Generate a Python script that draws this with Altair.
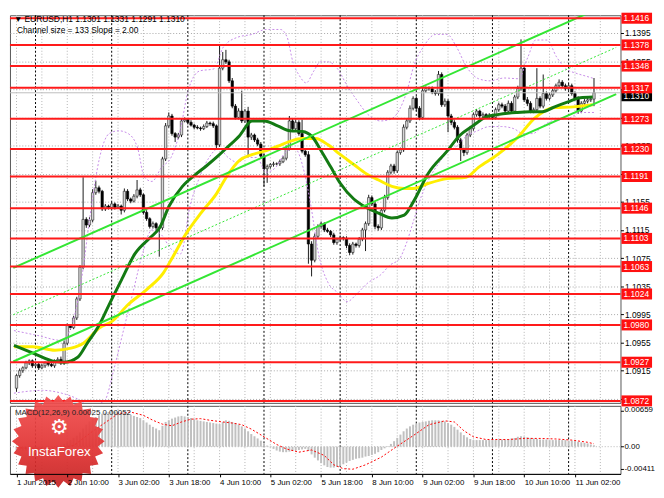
import math
import altair as alt
import pandas as pd

# ---------------- data ----------------
closes = [
    1.0908, 1.0915, 1.0919, 1.0926, 1.0929, 1.0922, 1.0924, 1.0919, 1.0922, 1.0926,
    1.0924, 1.0922, 1.0929, 1.0931, 1.0926, 1.0954, 1.0979, 1.0976, 1.0990, 1.1017,
    1.1062, 1.1130, 1.1122, 1.1129, 1.1168, 1.1175, 1.1170, 1.1145, 1.1149, 1.1147,
    1.1152, 1.1147, 1.1149, 1.1143, 1.1170, 1.1159, 1.1156, 1.1163, 1.1172, 1.1165,
    1.1140, 1.1131, 1.1120, 1.1124, 1.1118, 1.1118, 1.1216, 1.1263, 1.1277, 1.1252,
    1.1247, 1.1250, 1.1270, 1.1272, 1.1268, 1.1264, 1.1261, 1.1260, 1.1259, 1.1262,
    1.1267, 1.1266, 1.1263, 1.1236, 1.1345, 1.1357, 1.1354, 1.1327, 1.1291, 1.1275,
    1.1284, 1.1270, 1.1284, 1.1247, 1.1250, 1.1243, 1.1237, 1.1220, 1.1202, 1.1205,
    1.1208, 1.1209, 1.1209, 1.1212, 1.1217, 1.1231, 1.1270, 1.1259, 1.1268, 1.1252,
    1.1227, 1.1222, 1.1095, 1.1072, 1.1106, 1.1120, 1.1124, 1.1115, 1.1113, 1.1108,
    1.1097, 1.1102, 1.1104, 1.1103, 1.1093, 1.1083, 1.1095, 1.1093, 1.1102, 1.1115,
    1.1124, 1.1161, 1.1152, 1.1120, 1.1118, 1.1143, 1.1161, 1.1197, 1.1206, 1.1199,
    1.1225, 1.1229, 1.1261, 1.1270, 1.1288, 1.1302, 1.1288, 1.1275, 1.1313, 1.1316,
    1.1316, 1.1311, 1.1309, 1.1336, 1.1293, 1.1298, 1.1277, 1.1268, 1.1261, 1.1243,
    1.1229, 1.1225, 1.1250, 1.1259, 1.1279, 1.1284, 1.1277, 1.1279, 1.1276, 1.1278,
    1.1275, 1.1286, 1.1293, 1.1291, 1.1284, 1.1295, 1.1284, 1.1304, 1.1316, 1.1345,
    1.1300, 1.1295, 1.1284, 1.1286, 1.1302, 1.1291, 1.1309, 1.1302, 1.1307, 1.1313,
    1.1320, 1.1325, 1.1320, 1.1316, 1.1320, 1.1309, 1.1302, 1.1284, 1.1295, 1.1298,
    1.1300, 1.1301, 1.1310,
]
first_open = 1.0890
up_wick_pips = [
    2, 3, 2, 3, 2, 2, 3, 2, 3, 2,
    2, 3, 2, 3, 4, 4, 3, 2, 3, 3,
    3, 60, 3, 4, 5, 10, 3, 2, 3, 2,
    3, 2, 3, 2, 4, 3, 2, 3, 14, 3,
    2, 3, 2, 3, 2, 3, 3, 4, 5, 3,
    2, 3, 4, 3, 2, 3, 2, 3, 2, 3,
    3, 2, 3, 2, 32, 11, 14, 3, 4, 3,
    4, 29, 3, 6, 3, 2, 3, 3, 3, 3,
    2, 3, 2, 3, 3, 4, 7, 3, 4, 3,
    20, 3, 5, 4, 4, 3, 3, 2, 3, 2,
    3, 2, 3, 2, 3, 3, 3, 2, 3, 3,
    3, 4, 3, 3, 3, 3, 4, 3, 3, 3,
    3, 3, 4, 3, 4, 3, 3, 3, 4, 3,
    3, 3, 3, 5, 3, 4, 3, 3, 3, 3,
    3, 3, 3, 4, 3, 3, 2, 3, 2, 3,
    2, 3, 3, 3, 3, 4, 3, 3, 4, 41,
    5, 4, 3, 3, 43, 3, 27, 3, 3, 3,
    3, 4, 3, 3, 3, 3, 3, 3, 3, 3,
    3, 4, 21,
]
dn_wick_pips = [
    5, 3, 3, 2, 3, 3, 2, 3, 2, 3,
    3, 2, 3, 2, 3, 3, 3, 3, 2, 3,
    3, 3, 4, 3, 3, 3, 3, 3, 3, 3,
    2, 3, 2, 6, 3, 3, 3, 2, 3, 3,
    3, 3, 3, 3, 4, 41, 3, 3, 3, 3,
    7, 3, 3, 2, 3, 2, 3, 2, 3, 2,
    2, 3, 3, 7, 3, 3, 3, 3, 3, 3,
    3, 3, 3, 27, 4, 3, 3, 4, 25, 20,
    3, 3, 2, 3, 2, 3, 3, 3, 3, 3,
    3, 3, 28, 23, 3, 4, 3, 3, 2, 3,
    3, 3, 3, 3, 4, 4, 3, 3, 3, 3,
    30, 3, 3, 4, 4, 3, 3, 3, 3, 4,
    3, 3, 3, 3, 3, 3, 4, 4, 3, 3,
    3, 3, 3, 3, 3, 3, 23, 4, 3, 4,
    16, 5, 3, 3, 3, 3, 3, 3, 3, 3,
    3, 3, 3, 3, 3, 3, 4, 3, 3, 3,
    3, 4, 3, 3, 3, 3, 3, 3, 3, 3,
    3, 3, 3, 3, 3, 3, 3, 4, 3, 3,
    3, 3, 10,
]

level_prices = [1.1416, 1.1378, 1.1348, 1.1317, 1.1273, 1.1230, 1.1191,
                1.1146, 1.1103, 1.1063, 1.1024, 1.0980, 1.0927, 1.0872]
grid_prices = [1.0875, 1.0915, 1.0955, 1.0995, 1.1035, 1.1075, 1.1115,
               1.1155, 1.1195, 1.1235, 1.1275, 1.1315, 1.1355, 1.1395]
bid_price = 1.1310

tick_bars = [0, 16, 32, 48, 64, 80, 96, 112, 128, 144, 160, 176]
tick_labels = ["1 Jun 2015", "2 Jun 10:00", "3 Jun 02:00", "3 Jun 18:00",
               "4 Jun 10:00", "5 Jun 02:00", "5 Jun 18:00", "8 Jun 10:00",
               "9 Jun 02:00", "9 Jun 18:00", "10 Jun 10:00", "11 Jun 02:00"]
grid_bars = [0, 8, 16, 24, 32, 40, 48, 56, 64, 72, 80, 88, 96, 104, 112, 120,
             128, 136, 144, 152, 160, 168, 176, 184]
day_start_bars = [6, 30, 54, 78, 102, 126, 150, 174]

ma_fast_bars = [-0.8, 5.2, 12.1, 15.1, 19.3, 22.3, 26.2, 29.2, 33.1, 37.3, 42.1, 45.1,
                48.1, 52.3, 56.2, 60.1, 63.7, 66.1, 70.3, 74.2, 78.1, 82.3, 86.2, 90.1,
                93.1, 96.1, 99.1, 102.1, 106.3, 110.2, 114.1, 118.3, 122.2, 125.2,
                129.7, 135.7, 139.6, 143.8, 147.7, 151.6, 157.6, 161.8, 165.7, 169.6,
                173.8, 177.7, 181.6]
ma_fast_vals = [1.0951, 1.0940, 1.0928, 1.0927, 1.0934, 1.0954, 1.0981, 1.1009, 1.1044,
                1.1081, 1.1104, 1.1118, 1.1149, 1.1177, 1.1193, 1.1207, 1.1221, 1.1231,
                1.1249, 1.1270, 1.1270, 1.1263, 1.1256, 1.1255, 1.1248, 1.1227, 1.1204,
                1.1181, 1.1159, 1.1147, 1.1139, 1.1132, 1.1136, 1.1156, 1.1195, 1.1227,
                1.1249, 1.1263, 1.1275, 1.1279, 1.1282, 1.1283, 1.1283, 1.1290, 1.1297,
                1.1303, 1.1304]
ma_slow_bars = [-0.8, 5.2, 12.1, 17.2, 21.1, 26.2, 30.1, 35.2, 41.2, 46.3, 49.3, 53.2,
                58.3, 63.1, 66.1, 70.3, 74.2, 78.1, 82.3, 86.2, 90.1, 94.3, 98.2, 102.1,
                106.3, 110.2, 114.1, 118.3, 122.2, 125.2, 129.7, 135.7, 141.7, 145.6,
                151.6, 157.6, 163.6, 169.6, 175.6, 181.6]
ma_slow_vals = [1.0949, 1.0949, 1.0944, 1.0947, 1.0954, 1.0976, 1.0985, 1.1009, 1.1031,
                1.1054, 1.1077, 1.1108, 1.1140, 1.1167, 1.1190, 1.1214, 1.1222, 1.1227,
                1.1234, 1.1241, 1.1245, 1.1245, 1.1236, 1.1222, 1.1208, 1.1195, 1.1186,
                1.1177, 1.1174, 1.1174, 1.1181, 1.1188, 1.1190, 1.1204, 1.1222, 1.1245,
                1.1275, 1.1289, 1.1290, 1.1293]

bb_up_bars = [-0.8, 6.7, 14.2, 17.8, 20.8, 23.2, 26.2, 29.2, 32.2, 35.2, 38.2, 40.3,
              42.7, 45.7, 48.7, 51.7, 54.1, 57.7, 62.2, 65.2, 69.7, 74.2, 78.7, 83.2,
              85.3, 87.1, 89.2, 91.3, 93.7, 95.8, 98.2, 101.2, 104.2, 107.2, 110.8,
              114.7, 117.7, 120.7, 123.1, 125.2, 128.2, 132.1, 135.7, 138.7, 141.7,
              145.6, 149.2, 153.7, 158.2, 161.2, 163.6, 167.2, 170.2, 173.2, 176.2,
              179.2, 182.2]
bb_up_vals = [1.0972, 1.0965, 1.0958, 1.0985, 1.1054, 1.1136, 1.1218, 1.1252, 1.1256,
              1.1252, 1.1231, 1.1190, 1.1184, 1.1204, 1.1218, 1.1259, 1.1313, 1.1341,
              1.1344, 1.1375, 1.1389, 1.1393, 1.1400, 1.1400, 1.1389, 1.1354, 1.1334,
              1.1324, 1.1341, 1.1354, 1.1354, 1.1344, 1.1320, 1.1300, 1.1279, 1.1270,
              1.1272, 1.1286, 1.1313, 1.1348, 1.1375, 1.1393, 1.1393, 1.1375, 1.1348,
              1.1330, 1.1327, 1.1331, 1.1330, 1.1361, 1.1385, 1.1385, 1.1361, 1.1344,
              1.1338, 1.1334, 1.1330]
bb_lo_bars = [-0.8, 8.2, 14.2, 18.7, 23.2, 27.7, 30.7, 33.7, 36.7, 39.7, 42.7, 45.7,
              48.7, 51.7, 54.7, 57.7, 60.7, 63.7, 66.7, 69.7, 72.7, 75.7, 78.7, 81.7,
              84.7, 87.7, 90.7, 92.8, 95.2, 98.2, 101.2, 104.2, 107.2, 110.8, 114.7,
              117.7, 120.7, 122.8, 125.2, 127.6, 130.3, 133.3, 135.7, 138.7, 141.7,
              145.3, 149.2, 152.8, 156.7, 159.7, 162.7, 165.7, 168.7, 171.7, 174.7,
              177.7, 182.2]
bb_lo_vals = [1.0883, 1.0887, 1.0883, 1.0876, 1.0865, 1.0872, 1.0917, 1.0972, 1.1026,
              1.1081, 1.1115, 1.1108, 1.1088, 1.1081, 1.1149, 1.1190, 1.1218, 1.1231,
              1.1218, 1.1211, 1.1218, 1.1218, 1.1197, 1.1204, 1.1225, 1.1231, 1.1197,
              1.1149, 1.1081, 1.1040, 1.1026, 1.1013, 1.1024, 1.1040, 1.1051, 1.1065,
              1.1074, 1.1095, 1.1129, 1.1163, 1.1190, 1.1211, 1.1225, 1.1234, 1.1248,
              1.1256, 1.1262, 1.1262, 1.1259, 1.1252, 1.1252, 1.1262, 1.1270, 1.1272,
              1.1275, 1.1282, 1.1282]

channel_bars = [-1, 189]
channel_lower = [1.0928, 1.1308]
channel_size = 0.0133

macd_hist_e4 = [
    -6, -6, -7, -7, -6, -5, -5, -4, -3, -2, -1, 0,
    1, 2, 3, 5, 8, 12, 16, 20, 26, 33, 40, 46,
    50, 54, 57, 60, 62, 63, 64, 64, 63, 62, 61, 60,
    58, 56, 54, 52, 48, 44, 40, 36, 33, 30, 38, 45,
    48, 51, 53, 55, 56, 55, 54, 52, 50, 48, 47, 46,
    45, 44, 43, 42, 41, 45, 48, 47, 45, 43, 40, 37,
    33, 28, 23, 19, 15, 11, 6, 2, -1, -4, -7, -9,
    -10, -10, -9, -8, -7, -6, -5, -4, -8, -14, -20, -25,
    -30, -34, -37, -38, -38, -37, -35, -32, -29, -26, -24, -22,
    -21, -20, -18, -17, -15, -13, -10, -6, -3, 1, 5, 10,
    16, 22, 28, 33, 37, 40, 42, 44, 45, 46, 47, 48,
    48, 48, 47, 46, 43, 40, 36, 31, 26, 21, 17, 14,
    12, 12, 12, 12, 12, 12, 12, 12, 13, 13, 13, 14,
    15, 16, 18, 19, 18, 17, 16, 15, 14, 13, 13, 13,
    12, 12, 12, 12, 12, 12, 11, 11, 10, 9, 8, 7,
    6, 4, 2.5,
]
signal_bars = [0, 10, 18, 24, 28, 32, 36, 40, 43, 46, 49, 52, 55, 58, 61, 65, 68, 71,
               74, 78, 82, 85, 89, 93, 97, 100, 103, 106, 110, 115, 120, 125, 130,
               135, 138, 141, 144, 148, 155, 160, 165, 170, 175, 180, 182]
signal_e4 = [-2, -4, 2, 28, 44, 60, 63, 57, 48, 41, 38, 45, 50, 51, 48, 45, 43, 40,
             32, 18, 4, -4, -10, -6, -16, -33, -40, -41, -33, -19, 1, 20, 40, 47, 45,
             29, 18, 13, 13, 15, 15, 14, 12, 8, 5.2]

header_text = "▼ EURUSD,H1  1.1301 1.1331 1.1291 1.1310"
channel_text = "Channel size = 133 Slope = 2.00"
macd_text = "MACD(12,26,9) 0.00025 0.00052"
macd_axis_values = [-0.00411, 0.0, 0.00659]
macd_axis_labels = ["-0.00411", "0.00", "0.00659"]

# ---------------- layout ----------------
W = 619
HM = 393
HD = 69
FONT = "Liberation Sans"
x_dom = [-0.5, 188.8]
p_dom = [1.08692, 1.14202]
m_dom = [-0.00495, 0.00743]

xs = alt.Scale(domain=x_dom, nice=False, zero=False)
ps = alt.Scale(domain=p_dom, nice=False, zero=False)
ms = alt.Scale(domain=m_dom, nice=False, zero=False)

# ---------------- tables ----------------
opens = [first_open] + closes[:-1]
rows = []
for i, (o, c, u, d) in enumerate(zip(opens, closes, up_wick_pips, dn_wick_pips)):
    rows.append({"i": i, "o": o, "c": c,
                 "h": max(o, c) + u * 1e-4, "l": min(o, c) - d * 1e-4,
                 "bull": c >= o})
candles = pd.DataFrame(rows)
bull_df = candles[candles["bull"]]
bear_df = candles[~candles["bull"]]

grid_df = pd.DataFrame({"i": grid_bars})
day_df = pd.DataFrame({"i": day_start_bars})
gridp_df = pd.DataFrame({"p": grid_prices})
lev_df = pd.DataFrame({"p": level_prices, "lab": [f"{v:.4f}" for v in level_prices]})
bid_df = pd.DataFrame({"p": [bid_price], "lab": [f"{bid_price:.4f}"]})
macd_lab_df = pd.DataFrame({"v": macd_axis_values, "lab": macd_axis_labels})

ma_fast_df = pd.DataFrame({"i": ma_fast_bars, "p": ma_fast_vals})
ma_slow_df = pd.DataFrame({"i": ma_slow_bars, "p": ma_slow_vals})
bb_df = pd.concat([
    pd.DataFrame({"i": bb_up_bars, "p": bb_up_vals, "band": "up"}),
    pd.DataFrame({"i": bb_lo_bars, "p": bb_lo_vals, "band": "lo"}),
])
chan_rows = []
for name, off in [("lower", 0.0), ("mid", channel_size / 2), ("upper", channel_size)]:
    for b, v in zip(channel_bars, channel_lower):
        chan_rows.append({"i": b, "p": v + off, "line": name})
chan_df = pd.DataFrame(chan_rows)
chan_solid = chan_df[chan_df["line"] != "mid"]
chan_mid = chan_df[chan_df["line"] == "mid"]

hist_df = pd.DataFrame({"i": list(range(len(macd_hist_e4))),
                        "v": [v * 1e-4 for v in macd_hist_e4]})
sig_df = pd.DataFrame({"i": signal_bars, "v": [v * 1e-4 for v in signal_e4]})

# ---------------- shared axes ----------------
price_axis = alt.Axis(
    orient="right", values=grid_prices, format=".4f", grid=True,
    gridDash=[1, 2], gridColor="#a8a8a8", gridOpacity=1, domain=False,
    tickSize=3, tickColor="#000", labelPadding=1, labelFontSize=8.5,
    labelFont=FONT, labelColor="#000", title=None, labelOverlap=False)
label_js = "[" + ",".join(f"'{t}'" for t in tick_labels) + "]"
time_axis = alt.Axis(
    values=tick_bars, labelExpr=f"{label_js}[round(datum.value/16)]",
    labelAlign="left", labelFontSize=8, labelFont=FONT, labelColor="#000",
    tickSize=3, tickColor="#000", domainColor="#000", labelPadding=2,
    grid=False, title=None, labelOverlap=False, labelFlush=False, labelBound=False,
    zindex=2)
macd_axis = alt.Axis(
    orient="right", values=macd_axis_values, labels=False,
    tickSize=3, tickColor="#000", grid=False, domain=False, title=None)

X = alt.X("i:Q", scale=xs, axis=None)
P = lambda f: alt.Y(f, scale=ps, axis=price_axis)
XM = alt.X("i:Q", scale=xs, axis=time_axis)
M = lambda f: alt.Y(f, scale=ms, axis=macd_axis)

# ---------------- main panel ----------------
ygrid = alt.Chart(gridp_df).mark_rule(opacity=0).encode(y=P("p:Q"))
vgrid = alt.Chart(grid_df).mark_rule(color="#b4b4b4", strokeDash=[1, 2], strokeWidth=1).encode(x=X)
vday = alt.Chart(day_df).mark_rule(color="#000", strokeDash=[2, 2], strokeWidth=1).encode(x=X)

wicks = alt.Chart(candles).mark_rule(color="#1a1a1a", strokeWidth=1).encode(
    x=X, y=P("l:Q"), y2="h:Q")
bulls = alt.Chart(bull_df).mark_bar(width=2.4, fill="#d6d6d6", stroke="#222", strokeWidth=0.6).encode(
    x=X, y=P("o:Q"), y2="c:Q")
bears = alt.Chart(bear_df).mark_bar(width=2.4, fill="#000", stroke="#000", strokeWidth=0.6).encode(
    x=X, y=P("o:Q"), y2="c:Q")

bb = alt.Chart(bb_df).mark_line(color="#c68be8", strokeDash=[2, 2], strokeWidth=1,
                                interpolate="monotone", clip=True).encode(
    x=X, y=P("p:Q"), detail="band:N")
ma_slow = alt.Chart(ma_slow_df).mark_line(color="#ffee00", strokeWidth=3,
                                          interpolate="monotone", clip=True).encode(x=X, y=P("p:Q"))
ma_fast = alt.Chart(ma_fast_df).mark_line(color="#137a13", strokeWidth=3,
                                          interpolate="monotone", clip=True).encode(x=X, y=P("p:Q"))
ch_solid = alt.Chart(chan_solid).mark_line(color="#33e633", strokeWidth=2, clip=True).encode(
    x=X, y=P("p:Q"), detail="line:N")
ch_mid = alt.Chart(chan_mid).mark_line(color="#33e633", strokeWidth=1, strokeDash=[2, 2], clip=True).encode(
    x=X, y=P("p:Q"))

bid_line = alt.Chart(bid_df).mark_rule(color="#bdbdbd", strokeWidth=1).encode(y=P("p:Q"))
lev_lines = alt.Chart(lev_df).mark_rule(color="#ff1a1a", strokeWidth=2).encode(y=P("p:Q"))

box_path = "M-1,-0.36 L1,-0.36 L1,0.36 L-1,0.36 Z"
bid_box = alt.Chart(bid_df).mark_point(shape=box_path, size=961, filled=True, color="#000",
                                       opacity=1, yOffset=3).encode(
    x=alt.value(W + 16.5), y=P("p:Q"))
bid_lab = alt.Chart(bid_df).mark_text(align="left", baseline="middle", color="white", dy=3,
                                      fontSize=8.5, font=FONT).encode(
    x=alt.value(W + 3), y=P("p:Q"), text="lab:N")
lev_box = alt.Chart(lev_df).mark_point(shape=box_path, size=961, filled=True, color="#ff1010", opacity=1).encode(
    x=alt.value(W + 16.5), y=P("p:Q"))
lev_lab = alt.Chart(lev_df).mark_text(align="left", baseline="middle", color="white",
                                      fontSize=8.5, font=FONT).encode(
    x=alt.value(W + 3), y=P("p:Q"), text="lab:N")

hdr = alt.Chart(pd.DataFrame({"t": [header_text]})).mark_text(
    align="left", baseline="middle", fontSize=8.5, font=FONT, color="#000").encode(
    x=alt.value(4), y=alt.value(4), text="t:N")
chtxt = alt.Chart(pd.DataFrame({"t": [channel_text]})).mark_text(
    align="left", baseline="middle", fontSize=8.5, font=FONT, color="#000").encode(
    x=alt.value(7), y=alt.value(15), text="t:N")

main = alt.layer(
    ygrid, vgrid, vday, wicks, bulls, bears, bb, ma_slow, ma_fast, ch_solid, ch_mid,
    bid_line, lev_lines, bid_box, bid_lab, lev_box, lev_lab, hdr, chtxt,
).properties(width=W, height=HM)

# ---------------- MACD panel ----------------
m_vgrid = alt.Chart(grid_df).mark_rule(color="#b4b4b4", strokeDash=[1, 2]).encode(x=XM)
m_vday = alt.Chart(day_df).mark_rule(color="#000", strokeDash=[2, 2]).encode(x=XM)
zero = alt.Chart(pd.DataFrame({"v": [0.0]})).mark_rule(color="#b4b4b4", strokeDash=[1, 2]).encode(
    y=M("v:Q"))
hist = alt.Chart(hist_df).mark_bar(width=2, color="#c0c0c0").encode(
    x=XM, y=M("v:Q"), y2=alt.datum(0))
sig = alt.Chart(sig_df).mark_line(color="#ff0000", strokeDash=[2, 2], strokeWidth=1).encode(
    x=XM, y=M("v:Q"))
m_labels = alt.Chart(macd_lab_df).mark_text(
    align="left", baseline="middle", fontSize=8, font=FONT, color="#000").encode(
    x=alt.value(W + 4), y=M("v:Q"), text="lab:N")

n_sp = 24
pts = []
for k in range(2 * n_sp):
    r = 1.0 if k % 2 == 0 else 0.86
    a = math.pi * k / n_sp - math.pi / 2
    pts.append(f"{r * math.cos(a):.3f},{r * math.sin(a):.3f}")
burst_path = "M" + " L".join(pts) + " Z"
grad = alt.LinearGradient(gradient="linear", x1=0, y1=0, x2=0, y2=1, stops=[
    alt.GradientStop(color="#f25050", offset=0),
    alt.GradientStop(color="#e03232", offset=0.6),
    alt.GradientStop(color="#c42222", offset=1)])
one = pd.DataFrame({"t": ["InstaForex"]})
burst = alt.Chart(one).mark_point(shape=burst_path, size=94 * 94, filled=True,
                                  color=grad, opacity=0.93, strokeWidth=0).encode(
    x=alt.value(49), y=alt.value(36))
gear = alt.Chart(one).mark_text(text="⚙", fontSize=21, font="DejaVu Sans", color="white",
                                baseline="middle", align="center").encode(
    x=alt.value(50), y=alt.value(23))
brand = alt.Chart(one).mark_text(fontSize=13.5, font=FONT, color="white",
                                 baseline="middle", align="center").encode(
    x=alt.value(50), y=alt.value(47), text="t:N")
mtxt = alt.Chart(pd.DataFrame({"t": [macd_text]})).mark_text(
    align="left", baseline="middle", fontSize=8, font=FONT, color="#222").encode(
    x=alt.value(5), y=alt.value(7), text="t:N")

macd = alt.layer(m_vgrid, m_vday, zero, hist, sig, burst, gear, brand, mtxt, m_labels).properties(
    width=W, height=HD)

chart = alt.vconcat(main, macd, spacing=3, bounds="flush", padding=0).configure(
    font=FONT).configure_view(stroke="#555", strokeWidth=1)

chart.save("out.html", embed_options={"renderer": "svg", "actions": False})
